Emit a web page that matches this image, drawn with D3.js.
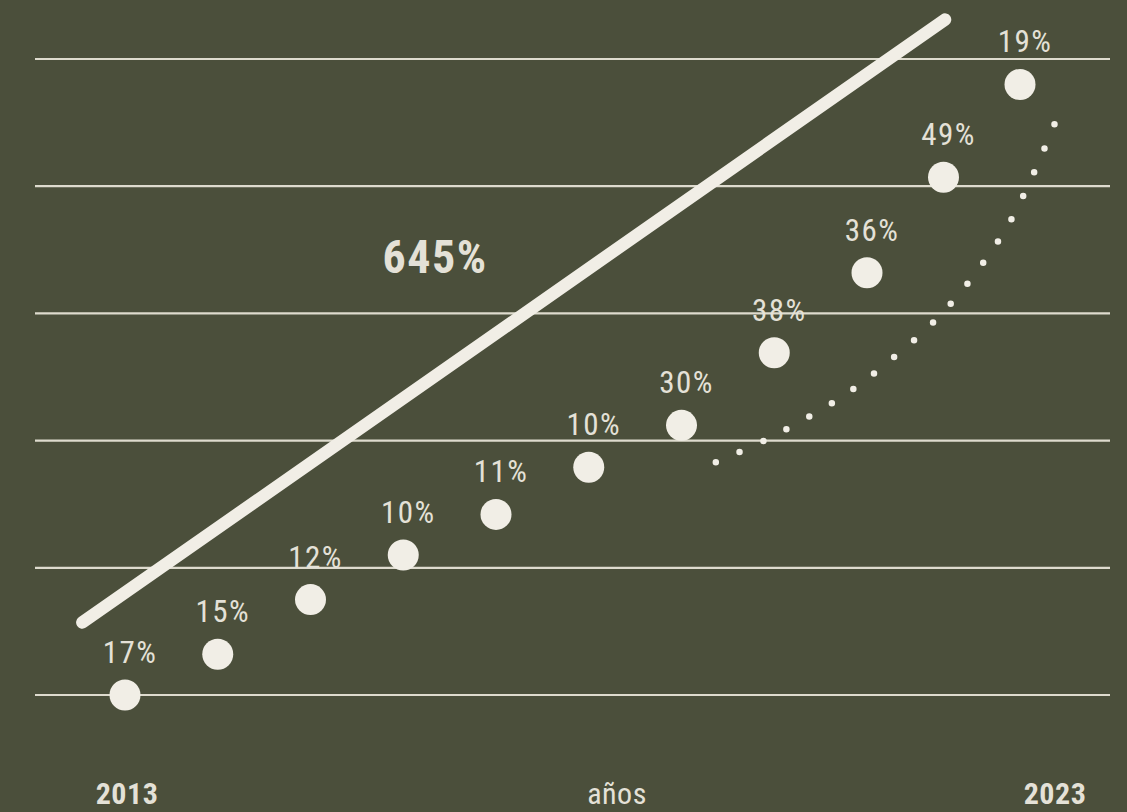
<!DOCTYPE html>
<html>
<head>
<meta charset="utf-8">
<script src="https://cdn.jsdelivr.net/npm/d3@7"></script>
<style>
  html, body { margin: 0; padding: 0; background: #4b4f3b; }
  svg { display: block; }
</style>
</head>
<body>
<svg id="chart" width="1127" height="812"></svg>
<script>
// Datos
const years = [2013, 2014, 2015, 2016, 2017, 2018, 2019, 2020, 2021, 2022, 2023];
const levels = [0, 0.32, 0.75, 1.10, 1.42, 1.79, 2.12, 2.69, 3.32, 4.07, 4.80];
const growthLabels = ["17%", "15%", "12%", "10%", "11%", "10%", "30%", "38%", "36%", "49%", "19%"];
const gridLevels = [0, 1, 2, 3, 4, 5];
// Línea de tendencia (año, nivel)
const trendYears = [2012.54, 2022.02];
const trendLevels = [0.57, 5.31];
// Curva punteada (año, nivel)
const curveYears = [2019.37, 2019.92, 2020.70, 2021.22, 2022.01, 2022.84, 2023.46];
const curveLevels = [1.83, 2.01, 2.33, 2.59, 3.02, 3.69, 4.50];
const totalLabel = "645%";
const axisLabels = ["2013", "años", "2023"];

const cream = "#f1eee6";
const textColor = "#e4e1d7";
const condensed = '"Roboto Condensed", "Liberation Sans Narrow", "DejaVu Sans Condensed", sans-serif';

const svg = d3.select("#chart");
// El dibujo original no reparte los años de forma regular
const x = d3.scaleLinear().domain([2013, 2021, 2023]).range([125, 867, 1020]);
const y = d3.scaleLinear().domain([0, 5]).range([695, 59]);

// Fondo
svg.append("rect").attr("width", 1127).attr("height", 812).attr("fill", "#4b4f3b");

// Líneas de la cuadrícula
svg.selectAll(".grid")
    .data(gridLevels)
    .enter()
    .append("line")
    .attr("class", "grid")
    .attr("x1", 35)
    .attr("x2", 1110)
    .attr("y1", d => y(d))
    .attr("y2", d => y(d))
    .attr("stroke", "#dedbce")
    .attr("stroke-width", 2.2);

// Línea de tendencia
const trend = trendYears.map((t, i) => [t, trendLevels[i]]);
svg.append("path")
    .datum(trend)
    .attr("d", d3.line().x(d => x(d[0])).y(d => y(d[1])))
    .attr("stroke", cream)
    .attr("stroke-width", 12.5)
    .attr("stroke-linecap", "round")
    .attr("fill", "none");

// Curva punteada
const curve = curveYears.map((t, i) => [t, curveLevels[i]]);
svg.append("path")
    .datum(curve)
    .attr("d", d3.line().x(d => x(d[0])).y(d => y(d[1])).curve(d3.curveCatmullRom))
    .attr("stroke", cream)
    .attr("stroke-width", 6.5)
    .attr("stroke-linecap", "round")
    .attr("stroke-dasharray", "0 26")
    .attr("fill", "none");

// Puntos
svg.selectAll(".dot")
    .data(years)
    .enter()
    .append("circle")
    .attr("class", "dot")
    .attr("cx", d => x(d))
    .attr("cy", (d, i) => y(levels[i]))
    .attr("r", 15.5)
    .attr("fill", cream);

// Etiquetas de crecimiento
svg.selectAll(".lbl")
    .data(years)
    .enter()
    .append("text")
    .attr("class", "lbl")
    .attr("x", d => x(d) + 5)
    .attr("y", (d, i) => y(levels[i]) - 32)
    .attr("text-anchor", "middle")
    .attr("font-family", condensed)
    .attr("font-weight", 400)
    .attr("font-size", 31)
    .attr("letter-spacing", 1.5)
    .attr("fill", textColor)
    .text((d, i) => growthLabels[i]);

// Total
svg.append("text")
    .attr("x", 435)
    .attr("y", 273)
    .attr("text-anchor", "middle")
    .attr("font-family", condensed)
    .attr("font-weight", "bold")
    .attr("font-size", 46)
    .attr("letter-spacing", 1.5)
    .attr("fill", textColor)
    .text(totalLabel);

// Etiquetas del eje
const axisX = [127, 617, 1055];
svg.selectAll(".axis")
    .data(axisLabels)
    .enter()
    .append("text")
    .attr("class", "axis")
    .attr("x", (d, i) => axisX[i])
    .attr("y", 804)
    .attr("text-anchor", "middle")
    .attr("font-family", condensed)
    .attr("font-weight", (d, i) => i === 1 ? "normal" : "bold")
    .attr("font-size", 30)
    .attr("letter-spacing", 0.5)
    .attr("fill", textColor)
    .text(d => d);
</script>
</body>
</html>
